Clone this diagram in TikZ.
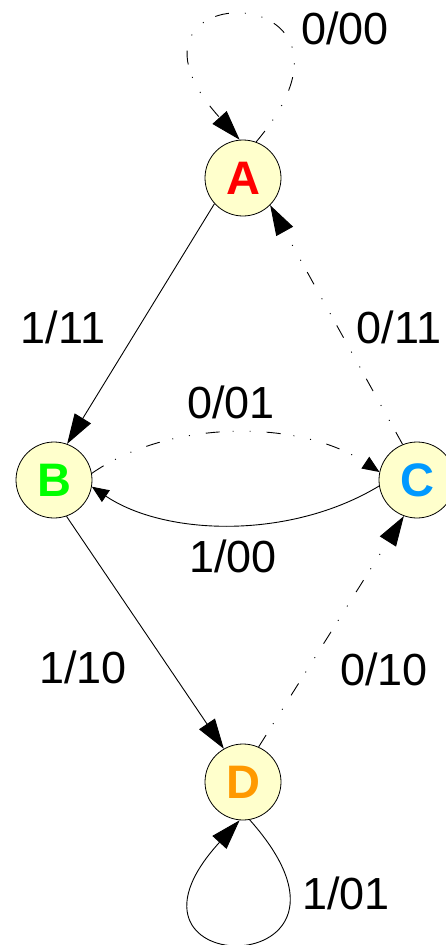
\documentclass[tikz,border=0pt]{standalone}
\usepackage{fontspec}
\setmainfont{Liberation Sans}
\usetikzlibrary{arrows.meta}
\definecolor{statefill}{HTML}{FFFFCC}
\definecolor{colA}{HTML}{FF0000}
\definecolor{colB}{HTML}{00FF00}
\definecolor{colC}{HTML}{0099FF}
\definecolor{colD}{HTML}{FF9900}
\tikzset{
  state/.style={circle, draw=black, line width=0.8pt, fill=statefill,
    minimum size=76pt, inner sep=0pt,
    font=\fontsize{47}{50}\selectfont\bfseries},
  lbl/.style={inner sep=0pt, font=\fontsize{45}{50}\selectfont},
  trans/.style={line width=0.9pt},
  dashdotdot/.style={trans, dash pattern=on 14pt off 13pt on 1pt off 16pt on 1pt off 16pt},
  bigtip/.style={-{Triangle[length=30pt,width=19pt]}},
  smalltip/.style={-{Triangle[length=17pt,width=14pt]}}
}
\begin{document}
\begin{tikzpicture}[x=1pt,y=-1pt]
  \useasboundingbox[fill=white] (0,0) rectangle (446,945);

  % states
  \node[state, text=colA] (A) at (243,178) {A};
  \node[state, text=colB] (B) at (54,480) {B};
  \node[state, text=colC] (C) at (417,480) {C};
  \node[state, text=colD] (D) at (243,782) {D};

  % transitions
  \draw[dashdotdot, bigtip] (A.70) .. controls (398,-26) and (90,-26) .. (A.95);
  \draw[trans, bigtip] (A.-138) -- (B.70);
  \draw[dashdotdot, bigtip] (C.112) -- (A.-45);
  \draw[dashdotdot, smalltip] (B.10) .. controls (170,419) and (300,419) .. (C.168);
  \draw[trans, smalltip] (C.-171) .. controls (290,540) and (165,536) .. (B.-10);
  \draw[trans, bigtip] (B.-71) -- (D.120);
  \draw[dashdotdot, bigtip] (D.66) -- (C.-110);
  \draw[trans, bigtip] (D.-80) .. controls (396,984) and (90,984) .. (D.-95);

  % output labels
  \node[lbl] (l00) at (345,28) {0/00};
  \node[lbl] (l11a) at (63,327) {1/11};
  \node[lbl] (l11b) at (399,327) {0/11};
  \node[lbl] (l01a) at (231,402) {0/01};
  \node[lbl] (l00b) at (233,556) {1/00};
  \node[lbl] (l10a) at (83,667) {1/10};
  \node[lbl] (l10b) at (384,669) {0/10};
  \node[lbl] (l01b) at (346,893) {1/01};
\end{tikzpicture}
\end{document}
